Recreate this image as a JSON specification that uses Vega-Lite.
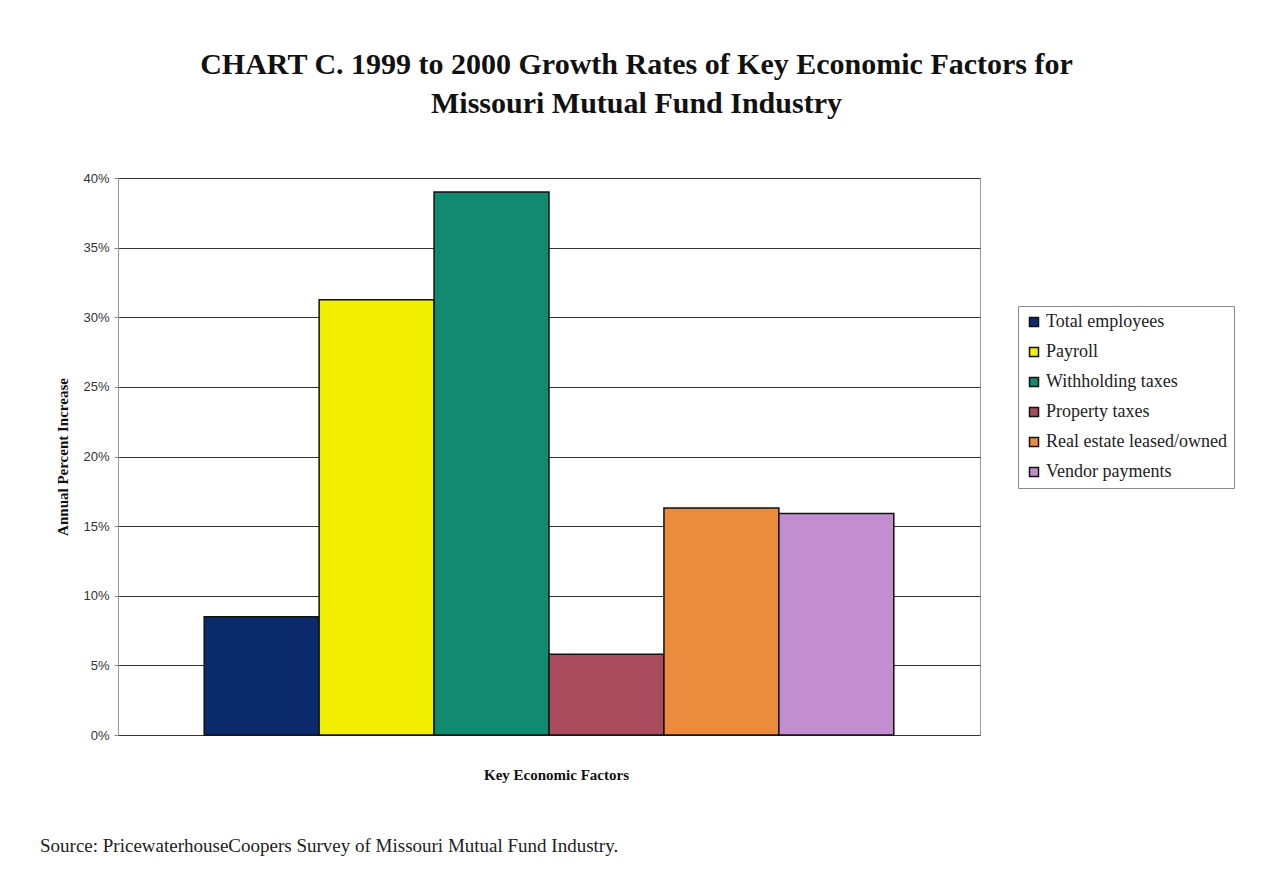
{
  "$schema": "https://vega.github.io/schema/vega-lite/v6.json",
  "width": 862,
  "height": 557,
  "autosize": {"type": "none"},
  "padding": {"left": 118, "top": 178, "right": 285, "bottom": 153},
  "background": "white",
  "config": {"view": {"stroke": "#9a9a9a", "strokeWidth": 1}},
  "title": {
    "text": "Source: PricewaterhouseCoopers Survey of Missouri Mutual Fund Industry.",
    "orient": "bottom",
    "anchor": "start",
    "frame": "group",
    "dx": -78,
    "offset": 55,
    "font": "Liberation Serif",
    "fontSize": 19,
    "fontWeight": "normal",
    "color": "#222"
  },
  "data": {
    "values": [
      {"factor": "Total employees", "growth": 0.085},
      {"factor": "Payroll", "growth": 0.3125},
      {"factor": "Withholding taxes", "growth": 0.39},
      {"factor": "Property taxes", "growth": 0.058},
      {"factor": "Real estate leased/owned", "growth": 0.163},
      {"factor": "Vendor payments", "growth": 0.159}
    ]
  },
  "encoding": {
    "y": {
      "field": "growth",
      "type": "quantitative",
      "scale": {"domain": [0, 0.4]},
      "axis": {
        "values": [0, 0.05, 0.1, 0.15, 0.2, 0.25, 0.3, 0.35, 0.4],
        "format": ".0%",
        "labelFont": "Liberation Sans",
        "labelFontSize": 13,
        "labelColor": "#333",
        "labelPadding": 5,
        "tickSize": 4,
        "tickColor": "#888",
        "domainColor": "#999",
        "grid": true,
        "gridColor": "#333",
        "gridWidth": 1,
        "title": "Annual Percent Increase",
        "titleFont": "Liberation Serif",
        "titleFontSize": 15,
        "titleFontWeight": "bold",
        "titleColor": "#111",
        "titlePadding": 12
      }
    }
  },
  "layer": [
    {
      "mark": {"type": "bar", "stroke": "#111", "strokeWidth": 1.5},
      "encoding": {
        "x": {
          "field": "factor",
          "type": "nominal",
          "sort": null,
          "scale": {"paddingInner": 0, "paddingOuter": 0.75},
          "axis": {
            "orient": "bottom",
            "labels": false,
            "ticks": false,
            "domain": false,
            "title": "Key Economic Factors",
            "titleFont": "Liberation Serif",
            "titleFontSize": 15,
            "titleFontWeight": "bold",
            "titleColor": "#111",
            "titlePadding": 32,
            "titleX": 438
          }
        },
        "color": {
          "field": "factor",
          "type": "nominal",
          "sort": null,
          "scale": {
            "domain": ["Total employees", "Payroll", "Withholding taxes", "Property taxes", "Real estate leased/owned", "Vendor payments"],
            "range": ["#0b2a6c", "#f2f000", "#128a70", "#a84c5e", "#ea8b3d", "#c28ed0"]
          },
          "legend": {
            "orient": "none",
            "legendX": 900,
            "legendY": 128,
            "title": null,
            "strokeColor": "#888",
            "fillColor": "white",
            "padding": 7,
            "symbolType": "square",
            "symbolSize": 81,
            "symbolStrokeColor": "#111",
            "symbolStrokeWidth": 1.5,
            "symbolOpacity": 1,
            "labelFont": "Liberation Serif",
            "labelFontSize": 18,
            "labelColor": "#222",
            "labelOffset": 3,
            "labelLimit": 400,
            "rowPadding": 12
          }
        }
      }
    },
    {
      "mark": {"type": "bar", "opacity": 0},
      "encoding": {
        "x": {
          "field": "factor",
          "type": "nominal",
          "sort": null,
          "scale": {"paddingInner": 0, "paddingOuter": 0.75},
          "axis": {
            "orient": "top",
            "labels": false,
            "ticks": false,
            "domain": false,
            "title": ["CHART C. 1999 to 2000 Growth Rates of  Key Economic Factors  for", "Missouri Mutual Fund Industry"],
            "titleFont": "Liberation Serif",
            "titleFontSize": 30,
            "titleFontWeight": "bold",
            "titleColor": "#111",
            "titleLineHeight": 39,
            "titleX": 518,
            "titleY": -105,
            "titleAlign": "center",
            "titleBaseline": "alphabetic",
            "titleAngle": 0
          }
        }
      }
    }
  ],
  "resolve": {"axis": {"x": "independent"}}
}
